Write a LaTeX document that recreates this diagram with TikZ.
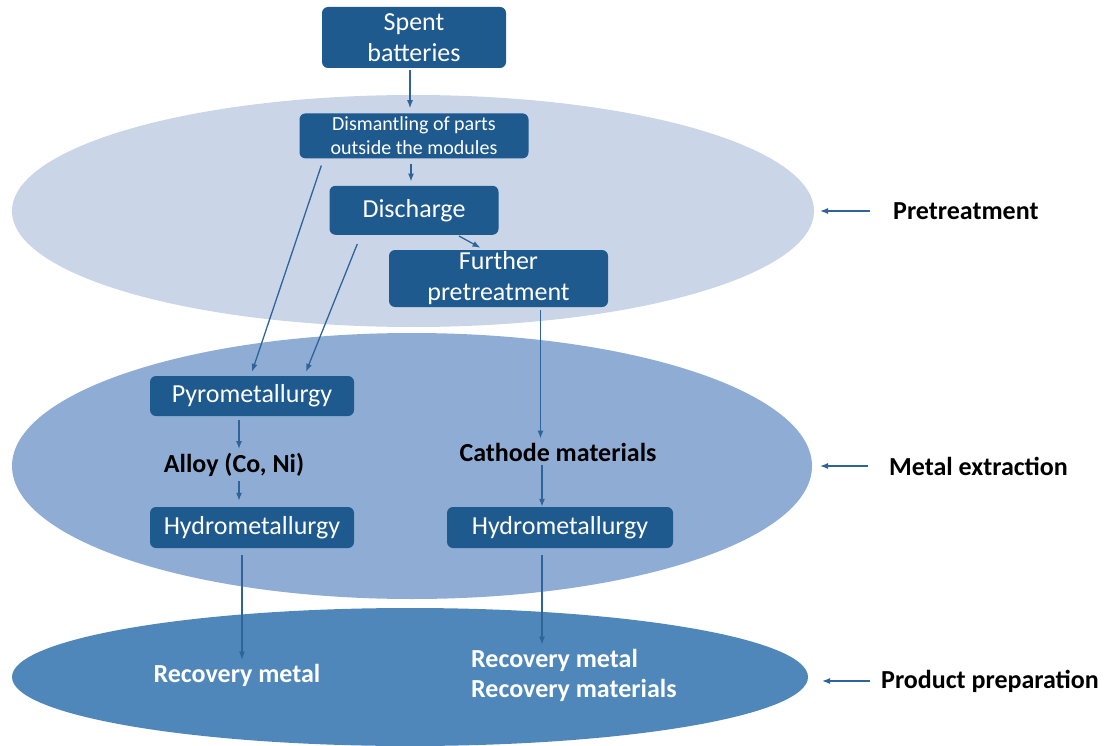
\documentclass[tikz,border=0pt]{standalone}
\usepackage{fontspec}
\setmainfont{Carlito}
\usetikzlibrary{arrows.meta, positioning, shapes.geometric, calc}
\definecolor{boxblue}{HTML}{1F5A8E}
\definecolor{linkblue}{HTML}{2E649A}
\definecolor{paleband}{HTML}{CBD5E8}
\definecolor{midband}{HTML}{8FADD4}
\definecolor{deepband}{HTML}{4F87BA}

\begin{document}
\begin{tikzpicture}[x=1pt, y=-1pt, node distance=22pt,
    every node/.style={font=\fontsize{26}{31}\selectfont},
    stage/.style={fill=boxblue, rounded corners=6pt, text=white, align=center, inner sep=0pt},
    band/.style={ellipse, inner sep=0pt},
    tag/.style={font=\fontsize{26}{30}\selectfont\bfseries, inner sep=4pt},
    flow/.style={-{Latex[length=8pt, width=6pt]}, line width=1.3pt, color=linkblue}]
    \useasboundingbox (0,0) rectangle (1105,746);
    % the three stages
    \node[band, fill=paleband, minimum width=802pt, minimum height=232pt] (pre) at (413,211) {};
    \node[band, fill=midband, minimum width=800pt, minimum height=266pt] (ext) at (412,466) {};
    \node[band, fill=deepband, minimum width=796pt, minimum height=138pt] (prod) at (410,677) {};
    % boxes
    \node[stage, minimum width=184pt, minimum height=61pt] (spent) at (414,37.5) {Spent\\batteries};
    \node[stage, minimum width=229pt, minimum height=45pt, font=\fontsize{20}{24}\selectfont, below=45pt of spent] (dism) {Dismantling of parts\\outside the modules};
    \node[stage, minimum width=169pt, minimum height=49pt, below=27pt of dism] (dis) {Discharge};
    \node[stage, minimum width=219pt, minimum height=57pt] (further) at (498.5,278.5) {Further\\pretreatment};
    \node[stage, minimum width=204pt, minimum height=40pt] (pyro) at (252,396) {Pyrometallurgy};
    \node[stage, minimum width=204pt, minimum height=41pt] (hydroL) at (252,527.5) {Hydrometallurgy};
    \node[stage, minimum width=226pt, minimum height=41pt] (hydroR) at (560,527.5) {Hydrometallurgy};
    % plain labels
    \node[tag] (alloy) at (234,465) {Alloy (Co, Ni)};
    \node[tag] (cathode) at (558,452) {Cathode materials};
    \node[tag, text=white] (recL) at (237,675) {Recovery metal};
    \node[tag, text=white, align=left, anchor=west] (recR) at (467,675) {Recovery metal\\Recovery materials};
    \node[tag, anchor=west] (ptlabel) at (889,211) {Pretreatment};
    \node[tag, anchor=west] (melabel) at (885,466) {Metal extraction};
    \node[tag, anchor=west] (pplabel) at (877,681) {Product preparation};
    % connectors
    \draw[flow] ([xshift=-4pt,yshift=-2pt]spent.south) -- ([xshift=-4pt,yshift=5pt]dism.north);
    \draw[flow] ([xshift=-3pt,yshift=-5pt]dism.south) -- ([xshift=-3pt,yshift=4pt]dis.north);
    \draw[flow] ([xshift=45pt,yshift=-1pt]dis.south) -- ([xshift=-18pt,yshift=2pt]further.north);
    \draw[flow] ([xshift=22pt,yshift=-7pt]dism.south west) -- ([yshift=4pt]pyro.north);
    \draw[flow] ([xshift=28pt,yshift=-9pt]dis.south west) -- ([xshift=54pt,yshift=4pt]pyro.north);
    \draw[flow] ([xshift=42pt,yshift=-3pt]further.south) -- ([xshift=42pt]further.south |- cathode.north);
    \draw[flow] ([xshift=-13pt,yshift=-4pt]pyro.south) -- ([xshift=-13pt]pyro.south |- alloy.north);
    \draw[flow] ([xshift=5pt]alloy.south) -- ([xshift=-13pt,yshift=6pt]hydroL.north);
    \draw[flow] ([xshift=-16pt]cathode.south) -- ([xshift=-16pt]cathode.south |- hydroR.north);
    \draw[flow] ([xshift=-10pt,yshift=-7pt]hydroL.south) -- ([xshift=-10pt]hydroL.south |- recL.north);
    \draw[flow] ([xshift=-18pt,yshift=-7pt]hydroR.south) -- ([xshift=-18pt]hydroR.south |- recR.north);
    \draw[flow] ([xshift=-19pt]ptlabel.west) -- ([xshift=-69pt]ptlabel.west);
    \draw[flow] ([xshift=-17pt]melabel.west) -- ([xshift=-65pt]melabel.west);
    \draw[flow] ([xshift=-7pt]pplabel.west) -- ([xshift=-55pt]pplabel.west);
  \end{tikzpicture}
\end{document}
